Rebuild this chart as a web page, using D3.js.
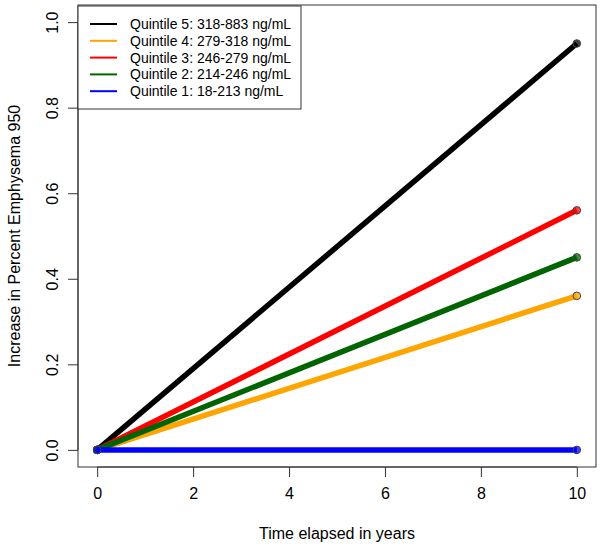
<!DOCTYPE html>
<html>
<head>
<meta charset="utf-8">
<script src="https://cdn.jsdelivr.net/npm/d3@7"></script>
<style>
body{margin:0;background:#fff}
svg{display:block}
text{font-family:"Liberation Sans",Arial,sans-serif;fill:#000}
</style>
</head>
<body>
<script>
// data
var years = [0, 10];
var groups = ["Quintile 5: 318-883 ng/mL", "Quintile 4: 279-318 ng/mL", "Quintile 3: 246-279 ng/mL",
              "Quintile 2: 214-246 ng/mL", "Quintile 1: 18-213 ng/mL"];
var endValues = [0.95, 0.36, 0.56, 0.45, 0.0];
var colors = ["#000000", "#FFA500", "#FF0000", "#006400", "#0000FF"];
var xTicks = [0, 2, 4, 6, 8, 10];
var yTicks = [0, 0.2, 0.4, 0.6, 0.8, 1.0];

var W = 600, H = 548;
var box = {left: 78, right: 596, top: 5, bottom: 467};

// R style: 4% padding of data range
var x = d3.scaleLinear().domain([-0.4, 10.4]).range([box.left, box.right]);
var y = d3.scaleLinear().domain([-0.04, 1.04]).range([box.bottom, box.top]);

var svg = d3.select("body").append("svg").attr("width", W).attr("height", H);

// axes
var xAxis = d3.axisBottom(x).tickValues(xTicks).tickSize(10).tickPadding(11).tickFormat(d3.format("d"));
var gx = svg.append("g").attr("transform", "translate(0," + box.bottom + ")").call(xAxis);
gx.select(".domain").attr("d", "M" + x(0) + ",0H" + x(10));
gx.selectAll("text").attr("font-size", 16).attr("font-family", "Liberation Sans, Arial, sans-serif");

var yAxis = d3.axisLeft(y).tickValues(yTicks).tickSize(10).tickFormat(d3.format(".1f"));
var gy = svg.append("g").attr("transform", "translate(" + box.left + ",0)").call(yAxis);
gy.select(".domain").attr("d", "M0," + y(0) + "V" + y(1));
gy.selectAll(".tick text")
  .attr("font-size", 16).attr("font-family", "Liberation Sans, Arial, sans-serif")
  .attr("text-anchor", "middle").attr("dy", null).attr("x", null)
  .attr("transform", "translate(-26,0) rotate(-90)")
  .attr("dominant-baseline", "central");
svg.selectAll(".tick line, .domain").attr("stroke", "#333");

// plot box
svg.append("rect")
  .attr("x", box.left).attr("y", box.top)
  .attr("width", box.right - box.left).attr("height", box.bottom - box.top)
  .attr("fill", "none").attr("stroke", "#333").attr("stroke-width", 1);

// axis titles
svg.append("text").attr("x", (box.left + box.right) / 2).attr("y", 539)
  .attr("text-anchor", "middle").attr("font-size", 16).text("Time elapsed in years");
svg.append("text")
  .attr("transform", "translate(20," + ((box.top + box.bottom) / 2) + ") rotate(-90)")
  .attr("text-anchor", "middle").attr("font-size", 16).text("Increase in Percent Emphysema 950");

// lines and points
var line = d3.line().x(function (d) { return x(d[0]); }).y(function (d) { return y(d[1]); });
groups.forEach(function (g, i) {
  var pts = [[years[0], 0], [years[1], endValues[i]]];
  svg.append("path").datum(pts).attr("d", line)
    .attr("fill", "none").attr("stroke", colors[i]).attr("stroke-width", 5.5);
  svg.selectAll(".pt" + i).data(pts).enter().append("circle")
    .attr("cx", function (d) { return x(d[0]); })
    .attr("cy", function (d) { return y(d[1]); })
    .attr("r", 3.8).attr("fill", colors[i]).attr("fill-opacity", 0.75)
    .attr("stroke", "#444").attr("stroke-width", 1);
});

// legend
var lg = svg.append("g");
lg.append("rect").attr("x", 78).attr("y", 6).attr("width", 223).attr("height", 103)
  .attr("fill", "#fff").attr("stroke", "#333");
groups.forEach(function (g, i) {
  var yy = 24 + i * 16.8;
  lg.append("line").attr("x1", 90).attr("x2", 117).attr("y1", yy).attr("y2", yy)
    .attr("stroke", colors[i]).attr("stroke-width", 2);
  lg.append("text").attr("x", 130).attr("y", yy).attr("dy", "0.35em")
    .attr("font-size", 14).text(g);
});
</script>
</body>
</html>
